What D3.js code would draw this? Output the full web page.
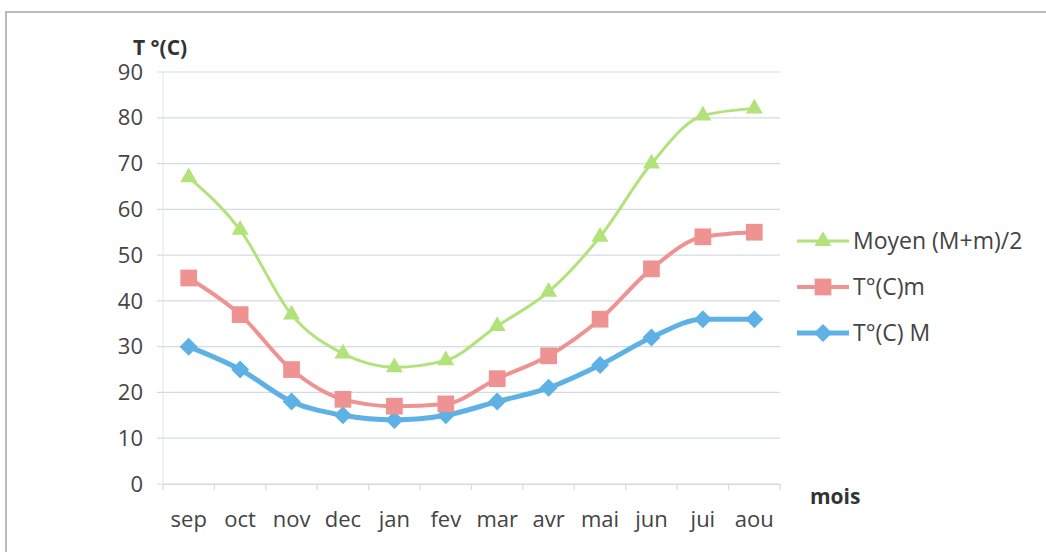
<!DOCTYPE html>
<html>
<head>
<meta charset="utf-8">
<script src="https://cdn.jsdelivr.net/npm/d3@7"></script>
<style>
  body { margin: 0; background: #fff; }
  text { font-family: "Open Sans", "Noto Sans", sans-serif; }
</style>
</head>
<body>
<svg id="chart" width="1046" height="552"></svg>
<script>
// data
const months = ["sep", "oct", "nov", "dec", "jan", "fev", "mar", "avr", "mai", "jun", "jui", "aou"];
const moyen = [67, 55.5, 37, 28.5, 25.5, 27, 34.5, 42, 54, 70, 80.5, 82];
const tMin = [45, 37, 25, 18.5, 17, 17.5, 23, 28, 36, 47, 54, 55];
const tMax = [30, 25, 18, 15, 14, 15, 18, 21, 26, 32, 36, 36];
const yTicks = [0, 10, 20, 30, 40, 50, 60, 70, 80, 90];

const series = [
  { name: "Moyen (M+m)/2", values: moyen, color: "#b2e27a", width: 3, shape: "triangle" },
  { name: "T°(C)m", values: tMin, color: "#ee9292", width: 4, shape: "square" },
  { name: "T°(C) M", values: tMax, color: "#5db1e4", width: 5, shape: "diamond" }
];

var svg = d3.select("#chart");

// frame of the scanned chart
svg.append("rect")
  .attr("x", 6).attr("y", 12)
  .attr("width", 1100).attr("height", 600)
  .attr("fill", "#fff")
  .attr("stroke", "#b8bcbf")
  .attr("stroke-width", 2);

var plotLeft = 163, plotRight = 780, plotTop = 72, plotBottom = 484;
var fontSize = 22;

var x = d3.scaleBand().domain(months).range([plotLeft, plotRight]);
var y = d3.scaleLinear().domain([0, 90]).range([plotBottom, plotTop]);

// horizontal gridlines
svg.append("g")
  .selectAll("line")
  .data(yTicks)
  .join("line")
  .attr("x1", plotLeft - 6).attr("x2", plotRight)
  .attr("y1", d => y(d)).attr("y2", d => y(d))
  .attr("stroke", "#d3dbe2")
  .attr("stroke-width", 1.2);

// y axis line
svg.append("line")
  .attr("x1", plotLeft).attr("x2", plotLeft)
  .attr("y1", plotTop).attr("y2", plotBottom)
  .attr("stroke", "#e0e6ea");

// y tick labels
svg.append("g")
  .selectAll("text")
  .data(yTicks)
  .join("text")
  .attr("x", plotLeft - 20)
  .attr("y", d => y(d))
  .attr("dy", "0.35em")
  .attr("text-anchor", "end")
  .attr("font-size", fontSize)
  .attr("fill", "#444")
  .text(d => d);

// x axis with tick marks between categories
var xAxis = svg.append("g")
  .attr("transform", "translate(0," + plotBottom + ")")
  .call(d3.axisBottom(x).tickSize(0).tickPadding(27));
xAxis.select(".domain").attr("stroke", "#d3dbe2").attr("stroke-width", 1.2);
xAxis.selectAll("text")
  .attr("font-size", fontSize)
  .attr("fill", "#444")
  .style("font-family", "'Open Sans', 'Noto Sans', sans-serif");

svg.append("g")
  .selectAll("line")
  .data(d3.range(months.length + 1))
  .join("line")
  .attr("x1", i => plotLeft + i * x.step())
  .attr("x2", i => plotLeft + i * x.step())
  .attr("y1", plotBottom).attr("y2", plotBottom + 6)
  .attr("stroke", "#d3dbe2")
  .attr("stroke-width", 1.2);

// axis titles
svg.append("text")
  .attr("x", 133).attr("y", 55)
  .attr("font-size", 21)
  .attr("font-weight", "bold")
  .attr("fill", "#333")
  .text("T °(C)");

svg.append("text")
  .attr("x", 810).attr("y", 504)
  .attr("font-size", 21)
  .attr("font-weight", "bold")
  .attr("fill", "#333")
  .text("mois");

function marker(shape) {
  if (shape === "triangle") return d3.symbol(d3.symbolTriangle, 125)();
  if (shape === "square") return d3.symbol(d3.symbolSquare, 280)();
  return "M0,-9L9,0L0,9L-9,0Z";
}

var line = d3.line()
  .x((d, i) => x(months[i]) + x.bandwidth() / 2)
  .y(d => y(d))
  .curve(d3.curveMonotoneX);

// draw series (back to front: blue, red, green)
series.slice().reverse().forEach(function (s) {
  var g = svg.append("g");
  g.append("path")
    .datum(s.values)
    .attr("d", line)
    .attr("fill", "none")
    .attr("stroke", s.color)
    .attr("stroke-width", s.width)
    .attr("stroke-linejoin", "round");
  g.selectAll("path.pt")
    .data(s.values)
    .join("path")
    .attr("class", "pt")
    .attr("transform", (d, i) => "translate(" + (x(months[i]) + x.bandwidth() / 2) + "," + y(d) + ")")
    .attr("d", marker(s.shape))
    .attr("fill", s.color);
});

// legend
var legend = svg.append("g")
  .selectAll("g")
  .data(series)
  .join("g")
  .attr("transform", (d, i) => "translate(797," + (241 + i * 46) + ")");
legend.append("line")
  .attr("x1", 0).attr("x2", 52)
  .attr("stroke", d => d.color)
  .attr("stroke-width", d => d.width);
legend.append("path")
  .attr("transform", "translate(26,0)")
  .attr("d", d => marker(d.shape))
  .attr("fill", d => d.color);
legend.append("text")
  .attr("x", 56)
  .attr("dy", "0.35em")
  .attr("font-size", 23)
  .attr("fill", "#444")
  .text(d => d.name);
</script>
</body>
</html>
